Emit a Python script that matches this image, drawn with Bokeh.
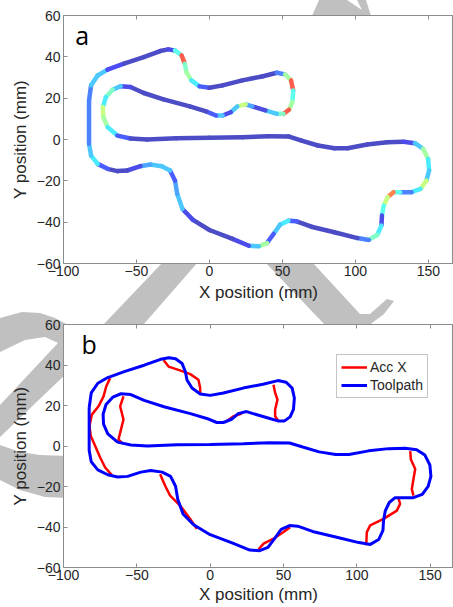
import base64
from bokeh.plotting import figure
from bokeh.layouts import column
from bokeh.models import (Label, FixedTicker, Range1d, ColumnDataSource, LinearAxis,
                          CustomJSTickFormatter)
from bokeh.transform import linear_cmap
from bokeh.embed import file_html
from bokeh.resources import INLINE

# ---------------- data ----------------
path_x = [-82.5, -81.1, -76.6, -69.8, -58.6, -45.0, -33.8, -28.2, -23.6, -19.1,
          -16.9, -15.8, -12.4, -6.8, 0.0, 9.0, 22.5, 36.0, 46.2, 51.8,
          55.9, 57.4, 56.8, 54.5, 50.7, 46.2, 38.3, 29.3, 24.8, 19.1,
          14.6, 9.0, 4.5, -2.3, -13.5, -31.5, -45.0, -54.1, -60.8, -66.4,
          -71.0, -73.0, -72.7, -69.8, -63.1, -54.1, -42.8, -22.5, 0.0, 22.5,
          40.5, 54.1, 63.1, 74.3, 85.6, 94.6, 108.1, 121.6, 132.9, 140.8,
          146.4, 149.8, 150.5, 148.6, 144.6, 138.5, 130.6, 126.1, 122.1, 119.4,
          118.2, 117.8, 114.9, 109.2, 101.4, 85.6, 69.8, 59.7, 54.1, 48.4,
          43.9, 39.4, 33.8, 27.0, 15.8, 0.0, -11.3, -18.5, -22.1, -23.6,
          -27.0, -32.7, -40.5, -47.3, -56.3, -63.1, -69.8, -76.6, -81.1, -82.5]
path_y = [18.9, 26.2, 31.0, 33.8, 36.7, 39.9, 42.8, 43.6, 43.1, 40.7,
          36.7, 32.6, 28.6, 25.7, 25.0, 26.2, 28.6, 30.5, 32.3, 31.5,
          28.6, 23.7, 18.1, 14.4, 12.4, 12.4, 14.1, 16.0, 17.0, 16.0,
          13.2, 11.6, 11.6, 13.6, 16.0, 19.4, 22.5, 25.4, 25.8, 24.1,
          20.5, 15.7, 10.8, 6.0, 1.9, 0.5, 0.0, 0.6, 0.8, 1.1,
          1.6, 1.5, -0.5, -2.9, -4.2, -4.2, -2.4, -1.3, -1.1, -1.8,
          -4.5, -9.4, -15.0, -19.9, -23.9, -25.5, -25.5, -25.5, -27.9, -32.0,
          -36.8, -41.7, -46.2, -48.6, -47.7, -44.9, -42.2, -39.6, -39.3, -41.2,
          -45.7, -50.1, -51.7, -51.4, -48.1, -43.8, -38.9, -33.6, -26.3, -19.9,
          -15.0, -12.9, -12.1, -12.9, -15.0, -15.3, -14.2, -11.8, -7.8, -2.1]
# relative acceleration magnitude along the path (colour of panel a)
acc_mag = [0.20, 0.30, 0.30, 0.12, 0.05, 0.05, 0.05, 0.10, 0.40, 0.85,
           0.45, 0.50, 0.35, 0.15, 0.05, 0.05, 0.05, 0.05, 0.20, 0.50,
           0.85, 0.40, 0.50, 0.85, 0.45, 0.30, 0.08, 0.25, 0.55, 0.30,
           0.10, 0.30, 0.15, 0.05, 0.05, 0.05, 0.05, 0.10, 0.30, 0.45,
           0.35, 0.55, 0.50, 0.35, 0.15, 0.05, 0.05, 0.05, 0.05, 0.05,
           0.05, 0.05, 0.05, 0.05, 0.05, 0.05, 0.05, 0.05, 0.10, 0.30,
           0.50, 0.35, 0.30, 0.55, 0.35, 0.20, 0.40, 0.80, 0.55, 0.40,
           0.10, 0.35, 0.45, 0.20, 0.05, 0.05, 0.05, 0.15, 0.35, 0.30,
           0.15, 0.50, 0.30, 0.10, 0.05, 0.05, 0.10, 0.30, 0.25, 0.15,
           0.30, 0.30, 0.25, 0.10, 0.05, 0.05, 0.15, 0.35, 0.30, 0.20]

# "Acc X" curve: sections where it departs from the toolpath
accx_xs = [
    [-68.2, -70.9, -72.7, -76.1, -80.7, -82.3, -81.4, -78.4, -75.0, -71.6, -67.0],
    [-31.8, -28.4, -21.6, -13.6, -8.0, -6.8, -6.8],
    [-59.1, -61.4, -59.1, -61.4, -62.5, -60.2],
    [43.2, 44.3, 45.9, 44.3, 44.3, 46.6],
    [11.4, 15.9, 21.6],
    [136.4, 136.8, 139.8, 138.6, 137.5, 138.6],
    [128.4, 129.5, 127.3, 118.2, 109.1, 106.8, 106.4],
    [33.0, 36.4, 43.2, 50.0, 54.5],
    [-34.1, -30.7, -27.3, -20.5, -13.6, -9.1],
]
accx_ys = [
    [33.5, 29.4, 24.5, 19.6, 15.5, 9.8, 4.9, 0.0, -5.7, -10.6, -14.4],
    [42.5, 39.2, 37.6, 35.5, 32.7, 28.6, 26.2],
    [24.5, 19.6, 13.1, 6.5, 3.3, 1.6],
    [30.2, 26.2, 22.9, 18.0, 14.7, 12.3],
    [12.3, 14.7, 16.0],
    [-2.5, -6.5, -11.4, -16.3, -21.3, -24.5],
    [-25.8, -28.6, -31.9, -36.0, -39.2, -42.5, -49.0],
    [-51.0, -48.2, -45.8, -42.5, -40.1],
    [-13.9, -19.6, -24.5, -29.4, -36.0, -40.9],
]

x_ticks = [-100, -50, 0, 50, 100, 150]
y_ticks = [-60, -40, -20, 0, 20, 40, 60]
x_title = "X position (mm)"
y_title = "Y position (mm)"

# ---------------- style ----------------
FONT = "Liberation Sans"
FRAME = "#8c8c8c"
TXT = "#262626"


def jet_light(n=256, mix=0.3):
    out = []
    for i in range(n):
        t = i / (n - 1)
        r = min(max(1.5 - abs(4 * t - 3), 0), 1)
        g = min(max(1.5 - abs(4 * t - 2), 0), 1)
        b = min(max(1.5 - abs(4 * t - 1), 0), 1)
        r, g, b = [c * (1 - mix) + mix for c in (r, g, b)]
        out.append("#%02x%02x%02x" % (int(r * 255), int(g * 255), int(b * 255)))
    return out


JET = jet_light()


def make_fig(x_end, height, left, top, bottom, xlab_standoff):
    p = figure(width=453, height=height, output_backend="svg", toolbar_location=None,
               x_range=Range1d(-100, x_end), y_range=Range1d(-60, 60),
               min_border_left=left, min_border_right=0, min_border_top=top,
               min_border_bottom=bottom)
    p.border_fill_alpha = 0
    p.background_fill_color = "white"
    p.outline_line_color = FRAME
    p.outline_line_width = 1
    p.xgrid.visible = False
    p.ygrid.visible = False
    for ax, ticks, stand in ((p.xaxis[0], x_ticks, 2), (p.yaxis[0], y_ticks, 3)):
        ax.ticker = FixedTicker(ticks=ticks)
        ax.major_tick_in = 4
        ax.major_tick_out = 0
        ax.minor_tick_line_color = None
        ax.axis_line_color = FRAME
        ax.major_tick_line_color = FRAME
        ax.major_label_text_font = FONT
        ax.major_label_text_font_size = "14px"
        ax.major_label_text_color = TXT
        ax.major_label_standoff = stand
        ax.axis_label_text_font = FONT
        ax.axis_label_text_font_size = "17px"
        ax.axis_label_text_font_style = "normal"
        ax.axis_label_text_color = TXT
    p.xaxis.axis_label = x_title
    p.xaxis.axis_label_standoff = xlab_standoff
    p.yaxis.axis_label = y_title
    p.yaxis.axis_label_standoff = 4
    # box ticks along the top edge (no labels)
    top_ax = LinearAxis(ticker=FixedTicker(ticks=x_ticks),
                        formatter=CustomJSTickFormatter(code="return ''"),
                        major_tick_in=4, major_tick_out=0, minor_tick_line_color=None,
                        axis_line_color=FRAME, major_tick_line_color=FRAME,
                        major_label_standoff=0)
    p.add_layout(top_ax, "above")
    return p


# ---------- panel a ----------
pa = make_fig(167.2, 304, 58, 15, 41, 4)
src_a = ColumnDataSource(dict(
    x0=path_x, y0=path_y,
    x1=path_x[1:] + path_x[:1], y1=path_y[1:] + path_y[:1],
    v=acc_mag))
pa.segment(x0="x0", y0="y0", x1="x1", y1="y1", source=src_a,
           line_color=linear_cmap("v", JET, 0, 1), line_width=4.5, line_cap="round")
pa.add_layout(Label(x=-92.0, y=50.8, text="a", text_font="Open Sans",
                    text_font_size="25px", text_baseline="alphabetic", text_color="black"))

# ---------- panel b ----------
pb = make_fig(165.9, 302, 63, 20, 38, 2)
pb.multi_line(xs=accx_xs, ys=accx_ys, line_color="#ff0000", line_width=2.5,
              legend_label="Acc X")
pb.line(x=path_x + path_x[:1], y=path_y + path_y[:1], line_color="#0000ff",
        line_width=3, legend_label="Toolpath")
pb.add_layout(Label(x=-87.8, y=50.4, text="b", text_font="Open Sans",
                    text_font_size="25px", text_baseline="alphabetic", text_color="black"))
lg = pb.legend[0]
lg.location = (273, 169)
lg.border_line_color = FRAME
lg.background_fill_color = "white"
lg.background_fill_alpha = 1
lg.label_text_font = FONT
lg.label_text_font_size = "14px"
lg.label_text_color = TXT
lg.glyph_width = 26
lg.glyph_height = 16
lg.label_height = 16
lg.label_standoff = 3
lg.padding = 4
lg.spacing = 2
lg.margin = 0

# ---------- background watermark (scan artefact, page pixel coordinates) ----------
wm_polys = [
    [(319, 0), (347, 0), (362, 10), (357, 0), (366, 0), (371, 16), (312, 16)],
    [(163, 262), (198, 262), (143, 325), (103, 325)],
    [(265, 262), (312, 262), (360, 314), (370, 314), (387, 299), (394, 301),
     (384, 314), (372, 323), (370, 325), (325, 325)],
    [(0, 318), (22, 312), (40, 313), (55, 318), (68, 325), (68, 372), (0, 437),
     (0, 405), (58, 343), (45, 337), (25, 340), (0, 352)],
    [(0, 445), (20, 452), (40, 455), (68, 456), (68, 498), (45, 497), (20, 490), (0, 480)],
]
svg = "<svg xmlns='http://www.w3.org/2000/svg' width='453' height='607'>" + "".join(
    "<polygon fill='rgb(192,192,192)' points='%s'/>" % " ".join("%g,%g" % pt for pt in poly)
    for poly in wm_polys) + "</svg>"
b64 = base64.b64encode(svg.encode()).decode()

layout = column(pa, pb, spacing=0, styles={
    "background-image": "url('data:image/svg+xml;base64,%s')" % b64,
    "background-repeat": "no-repeat",
    "background-position": "0px 0px",
    "background-size": "453px 607px",
})

open("out.html", "w").write(file_html(layout, INLINE))
